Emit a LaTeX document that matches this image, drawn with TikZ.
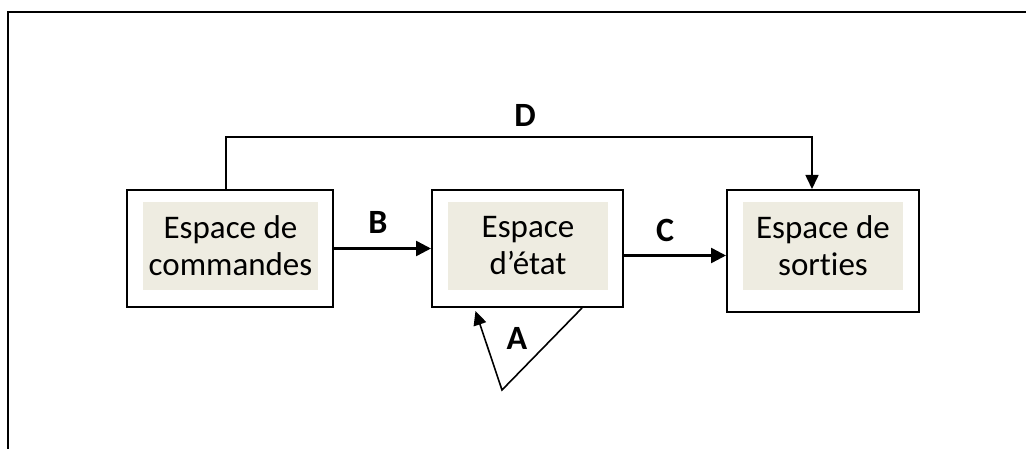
\documentclass[tikz,border=0pt]{standalone}
\usepackage{fontspec}
\setmainfont{Carlito}[Ligatures=NoCommon]
\usetikzlibrary{arrows.meta}

\definecolor{boxfill}{HTML}{EEECE1}

\tikzset{
  outerbox/.style={draw, line width=2pt, rectangle, minimum height=117pt},
  innerbox/.style={fill=boxfill, rectangle, minimum height=88pt, align=center,
    font=\fontsize{33}{37}\selectfont, inner sep=0pt},
  arrowlabel/.style={font=\fontsize{34}{38}\selectfont\bfseries, inner sep=0pt},
  thick arrow/.style={line width=2.5pt, -{Triangle[length=15pt,width=15pt]}},
  thin arrow/.style={line width=1.6pt, -{Triangle[length=14pt,width=13pt]}}
}

\begin{document}
\begin{tikzpicture}[x=1pt, y=1pt]
\useasboundingbox (0,0) rectangle (1026,-449);

% frame
\draw[line width=1.6pt] (8,-449) -- (8,-12) -- (1026,-12);

\node[outerbox, minimum width=206pt] (b1) at (230,-248.5) {};
\node[outerbox, minimum width=191pt] (b2) at (527.5,-248.5) {};
\node[outerbox, minimum width=192pt, minimum height=122pt] (b3) at (823,-251) {};

\node[innerbox, minimum width=175pt] (t1) at (230.5,-246) {Espace de\\commandes};
\node[innerbox, minimum width=160pt] (t2) at (528,-246) {Espace\\d’état};
\node[innerbox, minimum width=160pt] (t3) at (823,-246) {Espace de\\sorties};

\draw[thick arrow] (b1.east) -- (b2.west);
\coordinate (cstart) at ([yshift=-7pt]b2.east);
\draw[thick arrow] (cstart) -- (cstart -| b3.west);
\draw[thin arrow] ([xshift=-4pt]b1.north) -- ++(0,52) -| ([xshift=-11pt]b3.north);

\coordinate (apex) at (502,-390);
\draw[thin arrow] ([xshift=54.5pt]b2.south) -- (apex) -- ([xshift=-52pt,yshift=-3pt]b2.south);

\node[arrowlabel] (lb) at (378,-222) {B};
\node[arrowlabel] (lc) at (665,-230) {C};
\node[arrowlabel] (ld) at (525,-115) {D};
\node[arrowlabel] (la) at (517,-338) {A};
\end{tikzpicture}
\end{document}
